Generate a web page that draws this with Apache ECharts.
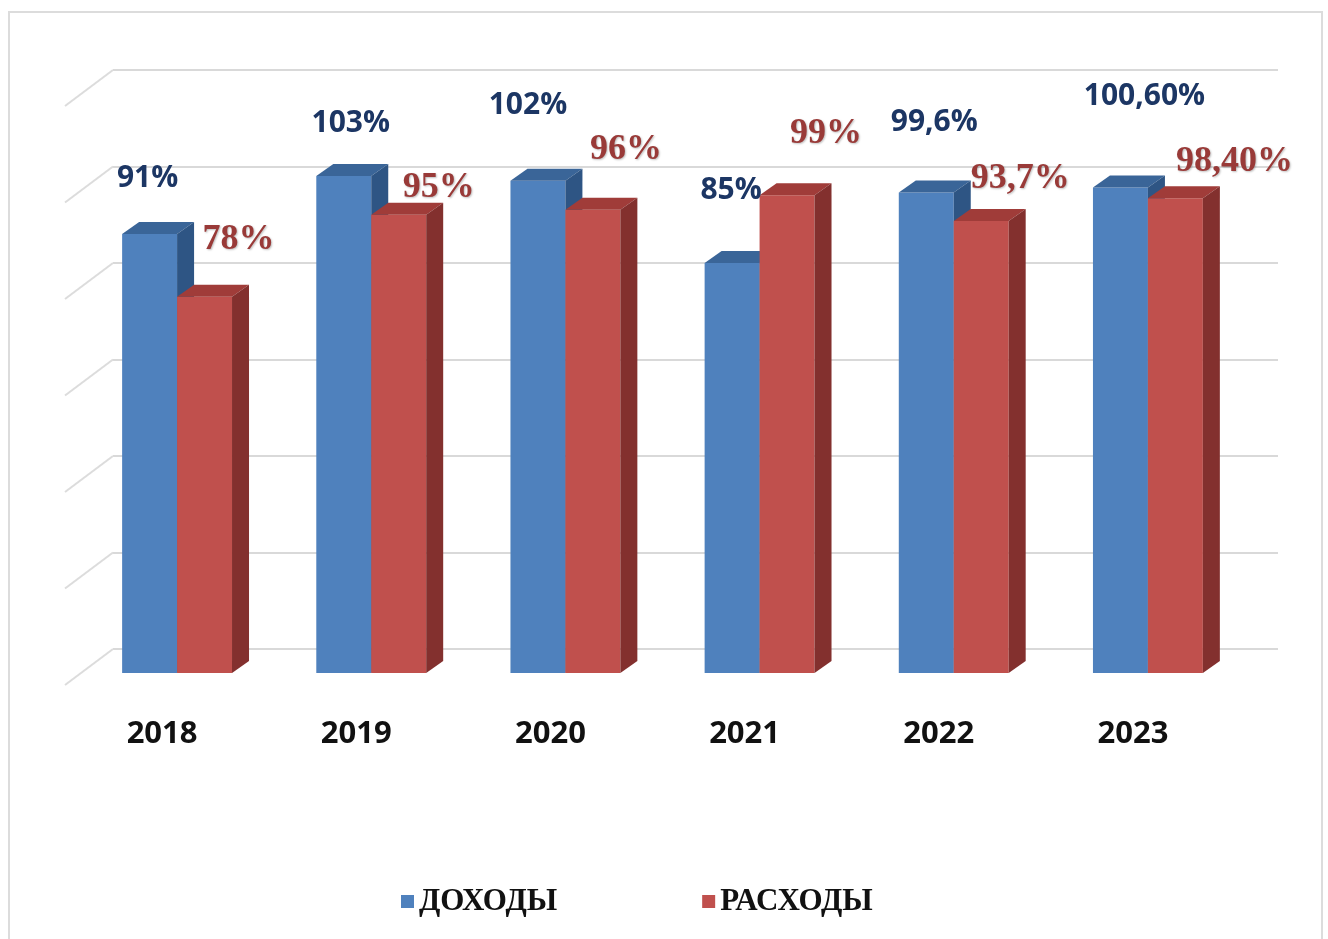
<!DOCTYPE html>
<html>
<head>
<meta charset="utf-8">
<script src="https://cdn.jsdelivr.net/npm/echarts@6/dist/echarts.min.js"></script>
<style>
  html, body { margin: 0; padding: 0; background: #fff; }
  #chart { width: 1328px; height: 939px; }
</style>
</head>
<body>
<div id="chart"></div>
<script>
// данные
const years = ['2018', '2019', '2020', '2021', '2022', '2023'];
const incomeValues = [91, 103, 102, 85, 99.6, 100.6];
const expenseValues = [78, 95, 96, 99, 93.7, 98.4];
const incomeLabels = ['91%', '103%', '102%', '85%', '99,6%', '100,60%'];
const expenseLabels = ['78%', '95%', '96%', '99%', '93,7%', '98,40%'];
const yTicks = [0, 20, 40, 60, 80, 100, 120];

// сдвиг подписей относительно верха столбца (как в исходнике)
const incomeLabelNudge = [[-2, -55], [7, -53], [-10, -75], [-1, -72], [8, -70], [24, -91]];
const expenseLabelNudge = [[34, -57], [40, -27], [33, -60], [39, -62], [39, -42], [59, -37]];

const DEPTH_X = 17;
const DEPTH_Y = 12;
const FRONT_DY = 24;

const chart = echarts.init(document.getElementById('chart'));

function barRenderer(side, colors, labels, nudge, labelStyle) {
  return function (params, api) {
    const idx = api.value(0);
    const v = api.value(1);
    const top = api.coord([idx, v]);
    const base = api.coord([idx, 0]);
    const band = api.size([1, 0])[0];
    const w = band * 0.283;
    const cx = top[0] - band * 0.17;
    const x0 = side === 0 ? cx - w : cx;
    const x1 = x0 + w;
    const yt = top[1] + FRONT_DY;
    const yb = base[1] + FRONT_DY;
    const n = nudge[idx];
    return {
      type: 'group',
      children: [
        {
          type: 'rect',
          shape: { x: x0, y: yt, width: w, height: yb - yt },
          style: { fill: colors[0] }
        },
        {
          type: 'polygon',
          shape: { points: [[x0, yt], [x0 + DEPTH_X, yt - DEPTH_Y], [x1 + DEPTH_X, yt - DEPTH_Y], [x1, yt]] },
          style: { fill: colors[1] }
        },
        {
          type: 'polygon',
          shape: { points: [[x1, yt], [x1 + DEPTH_X, yt - DEPTH_Y], [x1 + DEPTH_X, yb - DEPTH_Y], [x1, yb]] },
          style: { fill: colors[2] }
        },
        {
          type: 'text',
          z2: 100,
          x: x0 + w / 2 + n[0],
          y: yt + n[1],
          style: Object.assign({
            text: labels[idx],
            align: 'center',
            verticalAlign: 'middle'
          }, labelStyle)
        }
      ]
    };
  };
}

const option = {
  animation: false,
  backgroundColor: '#fff',
  graphic: [
    {
      type: 'rect',
      shape: { x: 9, y: 12, width: 1313, height: 1000 },
      style: { fill: 'none', stroke: '#dcdcdc', lineWidth: 2 }
    }
  ],
  legend: {
    data: ['ДОХОДЫ', 'РАСХОДЫ'],
    left: 396,
    top: 881,
    icon: 'rect',
    itemWidth: 13,
    itemHeight: 13,
    itemGap: 145,
    textStyle: {
      fontFamily: 'Liberation Serif',
      fontWeight: 'bold',
      fontSize: 31,
      color: '#111'
    }
  },
  grid: {
    left: 113,
    right: 50,
    top: 70,
    bottom: 290
  },
  xAxis: {
    type: 'category',
    data: years,
    axisLine: { show: false },
    axisTick: { show: false },
    axisLabel: {
      margin: 70,
      padding: [0, 96, 0, 0],
      fontFamily: 'Open Sans',
      fontWeight: 'bold',
      fontSize: 31,
      color: '#111'
    }
  },
  yAxis: {
    type: 'value',
    min: 0,
    max: 120,
    interval: 20,
    axisLine: { show: false },
    axisTick: { show: false },
    axisLabel: { show: false },
    splitLine: { lineStyle: { color: '#d9d9d9', width: 2 } }
  },
  series: [
    {
      // боковая стенка
      type: 'custom',
      silent: true,
      data: yTicks.map(v => [0, v]),
      renderItem: function (params, api) {
        const p = api.coord([0, api.value(1)]);
        const xl = params.coordSys.x;
        return {
          type: 'line',
          shape: { x1: xl, y1: p[1], x2: xl - 48, y2: p[1] + 36 },
          style: { stroke: '#dcdcdc', lineWidth: 2 }
        };
      }
    },
    {
      name: 'ДОХОДЫ',
      type: 'custom',
      itemStyle: { color: '#4F81BD' },
      data: incomeValues.map((v, i) => [i, v]),
      renderItem: barRenderer(0, ['#4F81BD', '#3A6598', '#2E5584'], incomeLabels, incomeLabelNudge, {
        fill: '#1c3664',
        fontFamily: 'Open Sans',
        fontWeight: 'bold',
        fontSize: 30
      })
    },
    {
      name: 'РАСХОДЫ',
      type: 'custom',
      itemStyle: { color: '#C0504D' },
      data: expenseValues.map((v, i) => [i, v]),
      renderItem: barRenderer(1, ['#C0504D', '#A03C39', '#83302E'], expenseLabels, expenseLabelNudge, {
        fill: '#993a38',
        fontFamily: 'Liberation Serif',
        fontWeight: 'bold',
        fontSize: 36,
        textShadowColor: 'rgba(0,0,0,0.25)',
        textShadowBlur: 2,
        textShadowOffsetX: 1,
        textShadowOffsetY: 1
      })
    }
  ]
};

chart.setOption(option);
</script>
</body>
</html>
